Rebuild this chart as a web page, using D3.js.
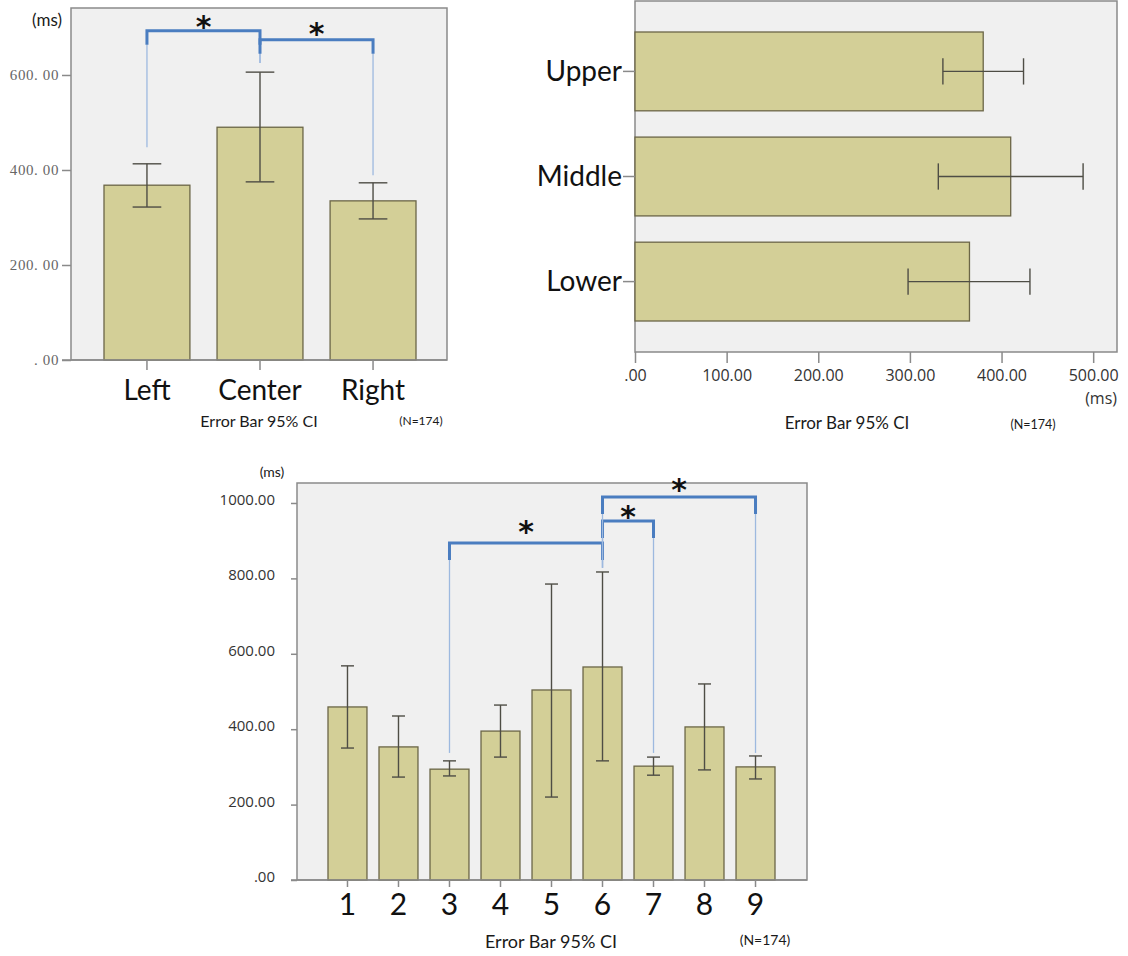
<!DOCTYPE html>
<html><head><meta charset="utf-8">
<script src="https://cdn.jsdelivr.net/npm/d3@7"></script>
<style>body{margin:0;background:#fff}svg{display:block}</style>
</head><body>
<svg id="c" width="1128" height="956"></svg>
<script>
// ---------- Data: chart A (horizontal position) ----------
const posCategories = ["Left", "Center", "Right"];
const posMeans = [368, 490, 335];
const posLow = [322, 375, 297];
const posHigh = [413, 606, 373];
const posTicks = [0, 200, 400, 600];
const posSigPairs = [["Left", "Center"], ["Center", "Right"]];
const posSigLevels = [693, 674];
const posSigStops = [[448, 625], [625, 389]];

// ---------- Data: chart B (vertical position) ----------
const vertCategories = ["Upper", "Middle", "Lower"];
const vertMeans = [380, 410, 365];
const vertLow = [336, 331, 298];
const vertHigh = [424, 489, 431];
const vertTicks = [0, 100, 200, 300, 400, 500];

// ---------- Data: chart C (nine areas) ----------
const areaCategories = ["1", "2", "3", "4", "5", "6", "7", "8", "9"];
const areaMeans = [459, 353, 294, 395, 504, 565, 302, 406, 300];
const areaLow = [350, 273, 276, 326, 220, 316, 278, 292, 268];
const areaHigh = [568, 435, 316, 464, 785, 817, 326, 520, 329];
const areaTicks = [0, 200, 400, 600, 800, 1000];
const areaSigPairs = [["3", "6"], ["6", "7"], ["6", "9"]];
const areaSigLevels = [894, 952, 1016];
const areaSigStops = [[337, 828], [828, 337], [828, 337]];

const captionText = "Error Bar 95% CI";
const nText = "(N=174)";
const unitText = "(ms)";

// ---------- Styles ----------
const FILL = "#d3cf97", BAR_STROKE = "#6b6647", ERR = "#4e4d45";
const FRAME = "#8a8a8a", BG = "#f0f0f0";
const SIG_THICK = "#4a7dc0", SIG_THIN = "#9db9df";
const SANS = "Lato, 'Open Sans', sans-serif";
const TICKF = "'Open Sans', 'Liberation Sans', sans-serif";

const svg = d3.select("#c");

function frame(x0, y0, x1, y1) {
  svg.append("rect").attr("x", x0).attr("y", y0).attr("width", x1 - x0).attr("height", y1 - y0)
    .attr("fill", BG).attr("stroke", FRAME).attr("stroke-width", 1.5);
}
function styleAxis(g) {
  g.select(".domain").remove();
  g.selectAll(".tick line").attr("stroke", FRAME).attr("stroke-width", 1.5);
}
function text(x, y, s, size, opts = {}) {
  return svg.append("text").attr("x", x).attr("y", y).text(s)
    .attr("font-family", opts.family || SANS).attr("font-size", size)
    .attr("fill", opts.fill || "#1a1a1a").attr("text-anchor", opts.anchor || "middle")
    .attr("font-weight", opts.weight || "normal");
}
function drawSig(pairs, levels, stops, xs, ys, drop, starGaps) {
  const half = xs.bandwidth() / 2, fs = 30;
  pairs.forEach((p, i) => {
    const xa = xs(p[0]) + half, xb = xs(p[1]) + half, yl = ys(levels[i]);
    svg.append("line").attr("x1", xa).attr("x2", xa).attr("y1", yl + drop).attr("y2", ys(stops[i][0]))
      .attr("stroke", SIG_THIN).attr("stroke-width", 1.3);
    svg.append("line").attr("x1", xb).attr("x2", xb).attr("y1", yl + drop).attr("y2", ys(stops[i][1]))
      .attr("stroke", SIG_THIN).attr("stroke-width", 1.3);
    svg.append("path").attr("d", `M${xa},${yl + drop}L${xa},${yl}L${xb},${yl}L${xb},${yl + drop}`)
      .attr("fill", "none").attr("stroke", SIG_THICK).attr("stroke-width", 3);
    text((xa + xb) / 2, yl - starGaps[i] + 0.56 * fs, "*", fs,
      { family: "'DejaVu Sans', sans-serif", weight: "bold", fill: "#111" });
  });
}
function vBars(cats, means, low, high, xs, ys) {
  const bw = xs.bandwidth(), cap = bw / 3;
  svg.append("g").selectAll("rect").data(cats).join("rect")
    .attr("x", d => xs(d)).attr("y", (d, i) => ys(means[i]))
    .attr("width", bw).attr("height", (d, i) => ys(0) - ys(means[i]))
    .attr("fill", FILL).attr("stroke", BAR_STROKE).attr("stroke-width", 1.3);
  const g = svg.append("g").attr("stroke", ERR).attr("stroke-width", 1.4);
  cats.forEach((d, i) => {
    const cx = xs(d) + bw / 2;
    g.append("line").attr("x1", cx).attr("x2", cx).attr("y1", ys(low[i])).attr("y2", ys(high[i]));
    [low[i], high[i]].forEach(v => g.append("line").attr("x1", cx - cap / 2).attr("x2", cx + cap / 2)
      .attr("y1", ys(v)).attr("y2", ys(v)));
  });
}

// ================= Chart A =================
{
  const L = 71, T = 8, R = 447, B = 360;
  frame(L, T, R, B);
  const x = d3.scaleBand().domain(posCategories).range([104, 416]).paddingInner(0.24).paddingOuter(0);
  const y = d3.scaleLinear().domain([0, 741]).range([B, T]);
  vBars(posCategories, posMeans, posLow, posHigh, x, y);
  svg.append("line").attr("x1", 62).attr("x2", R).attr("y1", B).attr("y2", B).attr("stroke", FRAME).attr("stroke-width", 1.5);
  const ya = svg.append("g").attr("transform", `translate(${L},0)`)
    .call(d3.axisLeft(y).tickValues(posTicks).tickSize(9).tickPadding(3)
      .tickFormat(d => d === 0 ? ". 00" : d3.format(".2f")(d).replace(".", ". ")));
  styleAxis(ya);
  ya.selectAll("text").attr("font-family", "'Liberation Serif', 'DejaVu Serif', serif").attr("font-size", 15)
    .attr("letter-spacing", 0.6).attr("fill", "#666");
  const xa = svg.append("g").attr("transform", `translate(0,${B})`)
    .call(d3.axisBottom(x).tickSize(10));
  styleAxis(xa);
  xa.selectAll("text").attr("y", 40).attr("dy", 0).attr("font-family", SANS).attr("font-size", 28).attr("fill", "#111");
  text(62, 26, unitText, 17, { anchor: "end" });
  text(259, 427, captionText, 16);
  text(421, 425, nText, 12);
  drawSig(posSigPairs, posSigLevels, posSigStops, x, y, 14, [11, 13]);
}

// ================= Chart B =================
{
  const L = 635, T = 1, R = 1117, B = 352;
  frame(L, T, R, B);
  const x = d3.scaleLinear().domain([0, 526]).range([L, R]);
  const y = d3.scaleBand().domain(vertCategories).range([32, 321]).paddingInner(0.25).paddingOuter(0);
  const bh = y.bandwidth(), cap = bh / 3;
  svg.append("g").selectAll("rect").data(vertCategories).join("rect")
    .attr("x", x(0)).attr("y", d => y(d)).attr("height", bh)
    .attr("width", (d, i) => x(vertMeans[i]) - x(0))
    .attr("fill", FILL).attr("stroke", BAR_STROKE).attr("stroke-width", 1.3);
  const g = svg.append("g").attr("stroke", ERR).attr("stroke-width", 1.4);
  vertCategories.forEach((d, i) => {
    const cy = y(d) + bh / 2;
    g.append("line").attr("y1", cy).attr("y2", cy).attr("x1", x(vertLow[i])).attr("x2", x(vertHigh[i]));
    [vertLow[i], vertHigh[i]].forEach(v => g.append("line").attr("y1", cy - cap / 2).attr("y2", cy + cap / 2)
      .attr("x1", x(v)).attr("x2", x(v)));
  });
  const xa = svg.append("g").attr("transform", `translate(0,${B})`)
    .call(d3.axisBottom(x).tickValues(vertTicks).tickSize(11)
      .tickFormat(d => d === 0 ? ".00" : d3.format(".2f")(d)));
  styleAxis(xa);
  xa.selectAll("text").attr("y", 29).attr("dy", 0).attr("font-family", TICKF).attr("font-size", 16).attr("fill", "#333");
  const ya = svg.append("g").attr("transform", `translate(${L},0)`)
    .call(d3.axisLeft(y).tickSize(12).tickPadding(1));
  styleAxis(ya);
  ya.selectAll("text").attr("font-family", SANS).attr("font-size", 28).attr("dy", "0.33em").attr("fill", "#111");
  text(R, 404, unitText, 16, { anchor: "end", family: TICKF, fill: "#333" });
  text(847, 429, captionText, 17);
  text(1033, 429, nText, 12.5);
}

// ================= Chart C =================
{
  const L = 297, T = 483, R = 807, B = 880;
  frame(L, T, R, B);
  const x = d3.scaleBand().domain(areaCategories).range([328, 775]).paddingInner(0.236).paddingOuter(0);
  const y = d3.scaleLinear().domain([0, 1053]).range([B, T]);
  vBars(areaCategories, areaMeans, areaLow, areaHigh, x, y);
  svg.append("line").attr("x1", 291).attr("x2", R).attr("y1", B).attr("y2", B).attr("stroke", FRAME).attr("stroke-width", 1.5);
  const ya = svg.append("g").attr("transform", `translate(${L},0)`)
    .call(d3.axisLeft(y).tickValues(areaTicks).tickSize(6).tickPadding(16)
      .tickFormat(d => d === 0 ? ".00" : d3.format(".2f")(d)));
  styleAxis(ya);
  ya.selectAll("text").attr("font-family", TICKF).attr("font-size", 15).attr("fill", "#333").attr("dy", "0.1em");
  const xa = svg.append("g").attr("transform", `translate(0,${B})`)
    .call(d3.axisBottom(x).tickSize(7));
  styleAxis(xa);
  xa.selectAll("text").attr("y", 35).attr("dy", 0).attr("font-family", SANS).attr("font-size", 30).attr("fill", "#111");
  text(272, 477, unitText, 14);
  text(551, 948, captionText, 18);
  text(765, 945, nText, 14);
  drawSig(areaSigPairs, areaSigLevels, areaSigStops, x, y, 17, [18, 11, 14]);
}
</script>
</body></html>
